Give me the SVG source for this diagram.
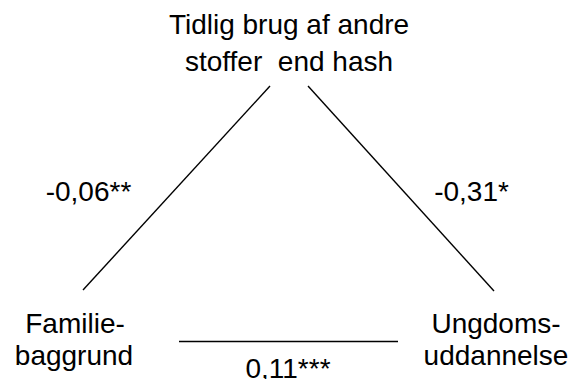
<svg xmlns="http://www.w3.org/2000/svg" width="575" height="379" viewBox="0 0 575 379">
<style>
text{font-family:"Liberation Sans",Arial,sans-serif;font-size:28px;fill:#000;text-anchor:middle;white-space:pre}
.edge{stroke:#000;stroke-width:1.4;fill:none}
</style>
<rect width="575" height="379" fill="#fff"/>
<g id="connectors">
<line class="edge" x1="270" y1="86" x2="83" y2="290"/>
<line class="edge" x1="308" y1="86" x2="494" y2="291"/>
<line class="edge" x1="179" y1="341.5" x2="398" y2="341.5"/>
<text x="88.5" y="201">-0,06**</text>
<text x="471.5" y="201">-0,31*</text>
<text x="288" y="378">0,11***</text>
</g>
<g id="node-top">
<text x="289" y="34">Tidlig brug af andre</text>
<text x="289" y="71" xml:space="preserve">stoffer  end hash</text>
</g>
<g id="node-left">
<text x="75" y="333">Familie-</text>
<text x="74" y="365">baggrund</text>
</g>
<g id="node-right">
<text x="496" y="333">Ungdoms-</text>
<text x="496" y="365">uddannelse</text>
</g>
</svg>
